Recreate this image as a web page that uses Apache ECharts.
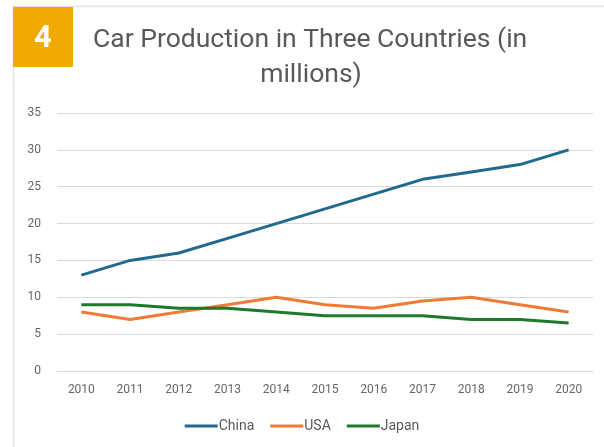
<!DOCTYPE html>
<html>
<head>
<meta charset="utf-8">
<script src="https://cdn.jsdelivr.net/npm/echarts@6/dist/echarts.min.js"></script>
<style>html,body{margin:0;padding:0;background:#fff}#c{width:604px;height:447px}</style>
</head>
<body>
<div id="c"></div>
<script>
var years = ['2010','2011','2012','2013','2014','2015','2016','2017','2018','2019','2020'];
var china = [13, 15, 16, 18, 20, 22, 24, 26, 27, 28, 30];
var usa   = [8, 7, 8, 9, 10, 9, 8.5, 9.5, 10, 9, 8];
var japan = [9, 9, 8.5, 8.5, 8, 7.5, 7.5, 7.5, 7, 7, 6.5];
var yTicks = [0, 5, 10, 15, 20, 25, 30, 35];

var chart = echarts.init(document.getElementById('c'), null, {renderer: 'canvas'});
var font = 'Roboto, "Liberation Sans", sans-serif';
chart.setOption({
  animation: false,
  backgroundColor: '#fff',
  graphic: [
    {type: 'line', shape: {x1: 13, y1: 6.5, x2: 604, y2: 6.5}, style: {stroke: '#e3e3e3', lineWidth: 1.5}},
    {type: 'line', shape: {x1: 13.5, y1: 6, x2: 13.5, y2: 447}, style: {stroke: '#e3e3e3', lineWidth: 1.5}},
    {type: 'rect', shape: {x: 13, y: 7, width: 60, height: 60}, style: {fill: '#F0A900'}},
    {type: 'text', x: 43, y: 39, style: {text: '4', fill: '#fff', font: 'bold 31px ' + font, align: 'center', verticalAlign: 'middle'}},
    {type: 'text', x: 93, y: 40, style: {text: 'Car Production in Three Countries (in', fill: '#595959', font: '26.5px ' + font, align: 'left', verticalAlign: 'middle'}},
    {type: 'text', x: 311, y: 75, style: {text: 'millions)', fill: '#595959', font: '26.5px ' + font, align: 'center', verticalAlign: 'middle'}}
  ],
  grid: {left: 57, right: 11, top: 113, bottom: 76, containLabel: false},
  legend: {
    bottom: 9, left: 'center',
    itemWidth: 33, itemHeight: 3, itemGap: 16,
    icon: 'rect',
    textStyle: {color: '#595959', fontSize: 14, fontFamily: font, padding: [0, 0, 0, -4]},
    data: ['China', 'USA', 'Japan']
  },
  xAxis: {
    type: 'category', data: years, boundaryGap: true,
    axisLine: {show: true, lineStyle: {color: '#d9d9d9'}},
    axisTick: {show: false},
    axisLabel: {color: '#666', fontSize: 12, fontFamily: font, margin: 13}
  },
  yAxis: {
    type: 'value', min: 0, max: 35, interval: 5,
    axisLine: {show: false}, axisTick: {show: false},
    splitLine: {lineStyle: {color: '#d9d9d9', width: 1}},
    axisLabel: {color: '#666', fontSize: 12, fontFamily: font, margin: 16,
      formatter: function (v) { return yTicks.indexOf(v) >= 0 ? String(v) : ''; }}
  },
  series: [
    {name: 'China', type: 'line', data: china, symbol: 'none', lineStyle: {width: 3, color: '#1F6A8D'}, itemStyle: {color: '#1F6A8D'}},
    {name: 'USA', type: 'line', data: usa, symbol: 'none', lineStyle: {width: 3, color: '#F07B36'}, itemStyle: {color: '#F07B36'}},
    {name: 'Japan', type: 'line', data: japan, symbol: 'none', lineStyle: {width: 3, color: '#1E7A2B'}, itemStyle: {color: '#1E7A2B'}}
  ]
});
</script>
</body>
</html>
